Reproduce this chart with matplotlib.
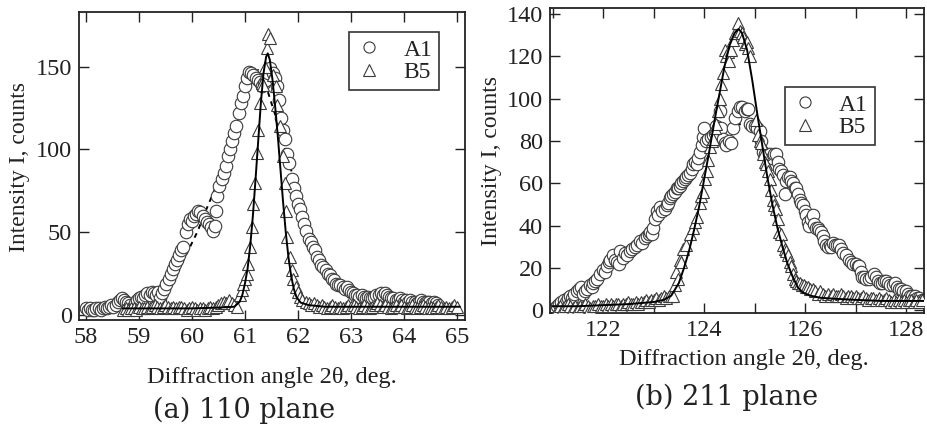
import matplotlib
matplotlib.use("Agg")
import matplotlib.pyplot as plt
from matplotlib.ticker import MultipleLocator
from matplotlib.lines import Line2D
import numpy as np

plt.rcParams['font.family'] = ['Liberation Serif', 'DejaVu Serif']

# --- (a) 110 plane ---
a1_110 = [(58.00, 4), (58.04, 3), (58.08, 4), (58.12, 3), (58.16, 3), (58.20, 4), (58.24, 4),
          (58.28, 3), (58.32, 4), (58.36, 5), (58.40, 4), (58.44, 5), (58.48, 6), (58.52, 5),
          (58.56, 6), (58.60, 8), (58.64, 9), (58.68, 10), (58.72, 9), (58.76, 8), (58.80, 7),
          (58.84, 6), (58.88, 5), (58.92, 7), (58.96, 9), (59.00, 10), (59.04, 11), (59.08, 10),
          (59.12, 12), (59.16, 13), (59.20, 12), (59.24, 14), (59.28, 13), (59.32, 12), (59.36, 14),
          (59.40, 10), (59.44, 13), (59.48, 16), (59.52, 19), (59.56, 22), (59.60, 25), (59.64, 28),
          (59.68, 31), (59.72, 33), (59.76, 36), (59.80, 39), (59.84, 41), (59.88, 50), (59.92, 55),
          (59.96, 58), (60.00, 57), (60.04, 60), (60.08, 61), (60.12, 63), (60.16, 62), (60.20, 60),
          (60.24, 58), (60.28, 56), (60.32, 55), (60.36, 53), (60.40, 51), (60.44, 54), (60.46, 63),
          (60.48, 72), (60.52, 78), (60.56, 82), (60.60, 86), (60.64, 90), (60.68, 96), (60.72, 100),
          (60.76, 105), (60.80, 110), (60.84, 114), (60.88, 122), (60.92, 128), (60.96, 132),
          (61.00, 138), (61.04, 143), (61.08, 147), (61.12, 146), (61.16, 145), (61.20, 143),
          (61.24, 142), (61.28, 141), (61.32, 138), (61.36, 140), (61.40, 142), (61.44, 146),
          (61.48, 149), (61.52, 146), (61.56, 143), (61.60, 138), (61.64, 130), (61.68, 119),
          (61.72, 112), (61.76, 106), (61.80, 97), (61.84, 92), (61.88, 82), (61.92, 77),
          (61.96, 72), (62.00, 67), (62.04, 64), (62.08, 59), (62.12, 55), (62.16, 51), (62.20, 46),
          (62.24, 44), (62.28, 41), (62.32, 39), (62.36, 35), (62.40, 33), (62.44, 30), (62.48, 29),
          (62.52, 27), (62.56, 25), (62.60, 24), (62.64, 22), (62.68, 21), (62.72, 19), (62.76, 18),
          (62.80, 18), (62.84, 17), (62.88, 16), (62.92, 17), (62.96, 15), (63.00, 14), (63.04, 13),
          (63.08, 12), (63.12, 12), (63.16, 11), (63.20, 12), (63.24, 11), (63.28, 10), (63.32, 11),
          (63.36, 10), (63.40, 10), (63.44, 11), (63.48, 12), (63.52, 12), (63.56, 13), (63.60, 12),
          (63.64, 13), (63.68, 12), (63.72, 11), (63.76, 10), (63.80, 10), (63.84, 9), (63.88, 9),
          (63.92, 10), (63.96, 9), (64.00, 8), (64.04, 9), (64.08, 8), (64.12, 9), (64.16, 8),
          (64.20, 8), (64.24, 7), (64.28, 8), (64.32, 9), (64.36, 8), (64.40, 7), (64.44, 8),
          (64.48, 8), (64.52, 7), (64.56, 8), (64.60, 7), (64.64, 6)]

b5_110 = [(58.70, 3), (58.75, 4), (58.80, 3), (58.85, 4), (58.90, 4), (58.95, 3), (59.00, 5),
          (59.05, 4), (59.10, 4), (59.15, 5), (59.20, 4), (59.25, 5), (59.30, 6), (59.35, 5),
          (59.40, 4), (59.45, 5), (59.50, 6), (59.55, 5), (59.60, 4), (59.65, 5), (59.70, 4),
          (59.75, 5), (59.80, 5), (59.85, 4), (59.90, 3), (59.95, 4), (60.00, 5), (60.05, 4),
          (60.10, 3), (60.15, 4), (60.20, 4), (60.25, 3), (60.30, 4), (60.35, 5), (60.40, 4),
          (60.45, 5), (60.50, 6), (60.55, 7), (60.60, 8), (60.65, 7), (60.70, 9), (60.75, 7),
          (60.80, 6), (60.85, 5), (60.91, 12), (60.94, 15), (60.97, 19), (61.00, 22), (61.03, 25),
          (61.06, 31), (61.09, 41), (61.13, 53), (61.16, 67), (61.19, 80), (61.22, 98), (61.25, 112),
          (61.28, 128), (61.32, 140), (61.35, 139), (61.38, 150), (61.41, 161), (61.43, 170),
          (61.48, 167), (61.53, 145), (61.58, 138), (61.60, 127), (61.66, 114), (61.72, 96),
          (61.75, 80), (61.77, 63), (61.80, 47), (61.85, 35), (61.88, 27), (61.91, 22), (61.96, 17),
          (62.00, 14), (62.04, 11), (62.08, 9), (62.15, 8), (62.20, 7), (62.25, 6), (62.30, 7),
          (62.35, 6), (62.40, 5), (62.45, 6), (62.50, 5), (62.55, 4), (62.60, 5), (62.65, 6),
          (62.70, 5), (62.75, 4), (62.80, 5), (62.85, 4), (62.90, 5), (62.95, 6), (63.00, 5),
          (63.05, 6), (63.10, 5), (63.15, 4), (63.20, 5), (63.25, 6), (63.30, 5), (63.35, 4),
          (63.40, 5), (63.45, 6), (63.50, 7), (63.55, 6), (63.60, 5), (63.65, 6), (63.70, 5),
          (63.75, 4), (63.80, 5), (63.85, 6), (63.90, 5), (63.95, 6), (64.00, 5), (64.05, 4),
          (64.10, 5), (64.15, 6), (64.20, 5), (64.25, 4), (64.30, 5), (64.35, 6), (64.40, 5),
          (64.45, 4), (64.50, 5), (64.55, 4), (64.60, 5), (64.65, 6), (64.70, 5), (64.75, 4),
          (64.80, 5), (64.85, 4), (64.90, 5), (64.95, 6), (65.00, 5)]

a1_110_fit = [(58.0, 6), (58.5, 5), (59.0, 6), (59.3, 8), (59.5, 13), (59.7, 24), (59.9, 37),
              (60.1, 50), (60.3, 66), (60.5, 81), (60.7, 99), (60.9, 120), (61.1, 140),
              (61.25, 148), (61.4, 138), (61.6, 118), (61.8, 95), (62.0, 74), (62.2, 55),
              (62.4, 38), (62.6, 26), (62.8, 18), (63.0, 13), (63.4, 9), (64.0, 7), (64.6, 6)]

b5_110_fit = [(58.7, 4), (59.5, 4), (60.0, 4), (60.5, 4.5), (60.8, 5), (60.9, 8), (60.95, 12),
              (61.0, 19), (61.05, 28), (61.1, 42), (61.15, 60), (61.2, 82), (61.25, 105),
              (61.3, 128), (61.35, 146), (61.4, 156), (61.43, 158), (61.47, 154), (61.52, 142),
              (61.57, 126), (61.62, 108), (61.67, 88), (61.72, 68), (61.77, 50), (61.82, 35),
              (61.87, 24), (61.92, 16), (61.97, 11), (62.05, 7.5), (62.2, 6), (62.5, 5),
              (63.0, 5), (64.0, 5), (65.05, 5)]

# --- (b) 211 plane ---
a1_211 = [(121.05, 1), (121.09, 2), (121.13, 3), (121.17, 4), (121.22, 5), (121.26, 4), (121.30, 6),
          (121.35, 7), (121.39, 6), (121.43, 8), (121.48, 9), (121.52, 10), (121.56, 11), (121.61, 8),
          (121.65, 9), (121.68, 10), (121.74, 12), (121.78, 11), (121.81, 13), (121.85, 14),
          (121.88, 15), (121.94, 17), (122.00, 19), (122.04, 18), (122.07, 21), (122.11, 23),
          (122.14, 24), (122.20, 26), (122.24, 24), (122.27, 23), (122.31, 22), (122.34, 28),
          (122.40, 25), (122.44, 27), (122.48, 26), (122.53, 28), (122.58, 29), (122.63, 30),
          (122.68, 31), (122.73, 33), (122.78, 32), (122.82, 34), (122.86, 35), (122.90, 36),
          (122.93, 37), (122.97, 36), (122.99, 39), (123.03, 43), (123.06, 47), (123.09, 45),
          (123.12, 49), (123.17, 47), (123.22, 48), (123.26, 50), (123.29, 51), (123.32, 53),
          (123.35, 54), (123.39, 55), (123.42, 56), (123.46, 58), (123.49, 58), (123.52, 59),
          (123.55, 60), (123.59, 61), (123.62, 62), (123.65, 63), (123.68, 64), (123.72, 65),
          (123.76, 67), (123.78, 69), (123.82, 70), (123.85, 69), (123.88, 72), (123.91, 75),
          (123.95, 78), (123.98, 82), (124.00, 86), (124.04, 80), (124.08, 81), (124.13, 82),
          (124.18, 83), (124.21, 84), (124.24, 87), (124.28, 86), (124.31, 94), (124.34, 86),
          (124.37, 81), (124.41, 79), (124.44, 78), (124.50, 80), (124.54, 79), (124.57, 86),
          (124.62, 91), (124.67, 94), (124.70, 96), (124.74, 96), (124.80, 94), (124.84, 95),
          (124.87, 95), (124.90, 88), (124.95, 87), (125.00, 87), (125.05, 86), (125.10, 85),
          (125.13, 80), (125.16, 75), (125.20, 74), (125.25, 73), (125.30, 74), (125.35, 72),
          (125.39, 74), (125.42, 74), (125.46, 70), (125.49, 67), (125.52, 66), (125.56, 64),
          (125.59, 55), (125.62, 61), (125.66, 63), (125.69, 63), (125.72, 61), (125.76, 60),
          (125.79, 58), (125.82, 58), (125.86, 55), (125.89, 52), (125.92, 51), (125.95, 50),
          (125.99, 47), (126.02, 45), (126.05, 42), (126.08, 40), (126.12, 43), (126.15, 45),
          (126.18, 41), (126.21, 39), (126.25, 39), (126.28, 38), (126.31, 37), (126.35, 35),
          (126.38, 33), (126.41, 31), (126.45, 30), (126.48, 31), (126.51, 30), (126.54, 32),
          (126.58, 31), (126.62, 31), (126.67, 31), (126.71, 29), (126.75, 27), (126.81, 26),
          (126.86, 24), (126.90, 23), (126.94, 22), (127.00, 22), (127.04, 21), (127.07, 21),
          (127.10, 18), (127.13, 16), (127.17, 16), (127.21, 15), (127.27, 15), (127.31, 16),
          (127.37, 17), (127.40, 16), (127.44, 14), (127.47, 13), (127.52, 13), (127.56, 14),
          (127.60, 14), (127.64, 13), (127.68, 12), (127.73, 12), (127.78, 13), (127.82, 11),
          (127.86, 10), (127.90, 10), (127.94, 9), (127.99, 9), (128.03, 8), (128.08, 7),
          (128.12, 7), (128.17, 7), (128.21, 6), (128.25, 6), (128.30, 5), (128.35, 5)]

b5_211 = [(121.10, 1), (121.15, 2), (121.20, 1), (121.25, 2), (121.30, 3), (121.35, 2), (121.40, 1),
          (121.45, 2), (121.50, 1), (121.55, 2), (121.60, 2), (121.65, 3), (121.70, 2), (121.75, 1),
          (121.80, 2), (121.85, 2), (121.90, 3), (121.95, 2), (122.00, 2), (122.05, 3), (122.10, 2),
          (122.15, 3), (122.20, 2), (122.25, 3), (122.30, 3), (122.35, 2), (122.40, 3), (122.45, 3),
          (122.50, 4), (122.55, 3), (122.60, 3), (122.65, 4), (122.70, 3), (122.75, 4), (122.80, 4),
          (122.85, 5), (122.90, 4), (122.95, 5), (123.00, 5), (123.05, 6), (123.10, 5), (123.15, 6),
          (123.20, 7), (123.25, 6), (123.30, 7), (123.35, 7), (123.39, 7), (123.42, 12), (123.45, 18),
          (123.48, 15), (123.52, 24), (123.55, 23), (123.58, 29), (123.65, 31), (123.72, 36),
          (123.78, 39), (123.82, 42), (123.85, 44), (123.91, 51), (123.94, 54), (123.97, 56),
          (124.02, 62), (124.05, 66), (124.08, 71), (124.11, 77), (124.15, 80), (124.18, 81),
          (124.21, 86), (124.24, 88), (124.28, 94), (124.31, 100), (124.34, 107), (124.37, 112),
          (124.41, 123), (124.44, 120), (124.47, 122), (124.50, 118), (124.54, 123), (124.58, 128),
          (124.62, 131), (124.64, 131), (124.67, 136), (124.70, 132), (124.74, 131), (124.77, 129),
          (124.81, 126), (124.84, 127), (124.87, 124), (124.90, 120), (125.03, 90), (125.06, 83),
          (125.10, 80), (125.13, 79), (125.16, 74), (125.20, 70), (125.23, 69), (125.26, 66),
          (125.30, 62), (125.33, 57), (125.36, 52), (125.39, 50), (125.42, 48), (125.46, 43),
          (125.49, 37), (125.52, 36), (125.56, 31), (125.59, 29), (125.62, 28), (125.66, 26),
          (125.69, 23), (125.72, 21), (125.76, 17), (125.79, 15), (125.82, 14), (125.86, 13),
          (125.89, 13), (125.93, 12), (125.97, 12), (126.02, 11), (126.06, 11), (126.10, 10),
          (126.15, 10), (126.20, 9), (126.25, 8), (126.30, 9), (126.35, 8), (126.40, 7), (126.45, 8),
          (126.50, 7), (126.55, 8), (126.60, 7), (126.65, 7), (126.70, 8), (126.75, 7), (126.80, 6),
          (126.85, 7), (126.90, 7), (126.95, 6), (127.00, 7), (127.05, 6), (127.10, 6), (127.15, 7),
          (127.20, 6), (127.25, 5), (127.30, 6), (127.35, 6), (127.40, 5), (127.45, 6), (127.50, 5),
          (127.55, 5), (127.60, 6), (127.65, 5), (127.70, 4), (127.75, 5), (127.80, 4), (127.85, 5),
          (127.90, 4), (127.95, 5), (128.00, 4), (128.05, 5), (128.10, 5), (128.15, 4), (128.20, 5),
          (128.25, 4), (128.30, 5)]

a1_211_fit = [(121.0, 3), (121.2, 6), (121.6, 10), (122.0, 17), (122.4, 26), (122.8, 35),
              (123.0, 41), (123.4, 53), (123.7, 65), (124.0, 76), (124.3, 84), (124.55, 88),
              (124.8, 88), (125.0, 84), (125.3, 74), (125.6, 62), (125.9, 52), (126.1, 46),
              (126.4, 36), (126.7, 28), (127.0, 21), (127.4, 15), (127.8, 10), (128.35, 6)]

b5_211_fit = [(121.0, 2), (121.5, 2), (122.0, 2.5), (122.5, 3), (123.0, 4), (123.2, 5), (123.35, 7),
              (123.5, 13), (123.6, 20), (123.7, 28), (123.8, 38), (123.9, 49), (124.0, 62),
              (124.1, 75), (124.2, 89), (124.3, 102), (124.4, 115), (124.5, 125), (124.6, 131),
              (124.68, 133), (124.75, 131), (124.85, 123), (124.95, 109), (125.05, 93),
              (125.15, 78), (125.25, 63), (125.35, 50), (125.45, 39), (125.55, 30), (125.65, 22),
              (125.75, 16), (125.85, 11), (125.95, 8.5), (126.1, 7), (126.3, 6), (126.6, 5.5),
              (127.0, 5), (127.5, 4.5), (128.0, 4.5), (128.35, 4.5)]

labels = ['A1', 'B5']
ink = '#222222'
edge = '#3a3a3a'


def draw_panel(ax, circles, triangles, dash_fit, solid_fit):
    cx, cy = np.array(circles).T
    tx, ty = np.array(triangles).T
    dx, dy = np.array(dash_fit).T
    sx, sy = np.array(solid_fit).T
    ax.plot(dx, dy, color='black', lw=1.4, ls=(0, (2.5, 2.5)), zorder=1)
    ax.plot(cx, cy, ls='none', marker='o', ms=9, mfc='white', mec=edge, mew=0.8, zorder=2)
    ax.plot(tx, ty, ls='none', marker='^', ms=8.5, mfc='white', mec=edge, mew=0.8, zorder=3)
    ax.plot(sx, sy, color='black', lw=1.4, zorder=4)
    ax.tick_params(which='both', direction='in', length=7, width=1, top=True, right=True,
                   labelsize=17.5, pad=5, colors=ink)
    for sp in ax.spines.values():
        sp.set_linewidth(1.3)
        sp.set_color(ink)


def add_legend(ax, anchor):
    handles = [Line2D([], [], ls='none', marker='o', ms=8, mfc='white', mec=edge, mew=0.8),
               Line2D([], [], ls='none', marker='^', ms=8, mfc='white', mec=edge, mew=0.8)]
    leg = ax.legend(handles, labels, loc='upper left', bbox_to_anchor=anchor, fontsize=17,
                    frameon=True, fancybox=False, handletextpad=0.9, borderpad=0.3,
                    labelspacing=0.05, handlelength=1.1, borderaxespad=0)
    leg.get_frame().set_edgecolor('black')
    leg.get_frame().set_linewidth(1.2)
    for t in leg.get_texts():
        t.set_color(ink)


fig = plt.figure(figsize=(9.27, 4.34), dpi=100)
ax1 = fig.add_axes([0.0852, 0.2627, 0.4164, 0.7097])
ax2 = fig.add_axes([0.5933, 0.2788, 0.4035, 0.7028])

draw_panel(ax1, a1_110, b5_110, a1_110_fit, b5_110_fit)
ax1.set_xlim(57.87, 65.15)
ax1.set_ylim(-3, 183)
ax1.xaxis.set_major_locator(MultipleLocator(1))
ax1.yaxis.set_major_locator(MultipleLocator(50))
add_legend(ax1, (0.70, 0.935))

draw_panel(ax2, a1_211, b5_211, a1_211_fit, b5_211_fit)
ax2.set_xlim(120.95, 128.35)
ax2.set_ylim(-1.2, 142.9)
ax2.xaxis.set_major_locator(MultipleLocator(2))
ax2.xaxis.set_minor_locator(MultipleLocator(1))
ax2.yaxis.set_major_locator(MultipleLocator(20))
add_legend(ax2, (0.627, 0.741))

fig.text(20 / 927, 1 - 167 / 434, 'Intensity I, counts', rotation=90, ha='center', va='center',
         fontsize=17, color=ink)
fig.text(491 / 927, 1 - 161 / 434, 'Intensity I, counts', rotation=90, ha='center', va='center',
         fontsize=17, color=ink)
fig.text(272 / 927, 1 - 378 / 434, 'Diffraction angle 2θ, deg.', ha='center', va='center',
         fontsize=17.5, color=ink)
fig.text(744 / 927, 1 - 360 / 434, 'Diffraction angle 2θ, deg.', ha='center', va='center',
         fontsize=17.5, color=ink)
fig.text(244 / 927, 1 - 410 / 434, '(a) 110 plane', ha='center', va='center',
         fontsize=19.5, color=ink, family='DejaVu Serif')
fig.text(727 / 927, 1 - 397 / 434, '(b) 211 plane', ha='center', va='center',
         fontsize=19.5, color=ink, family='DejaVu Serif')

fig.savefig('out.png', dpi=100)
